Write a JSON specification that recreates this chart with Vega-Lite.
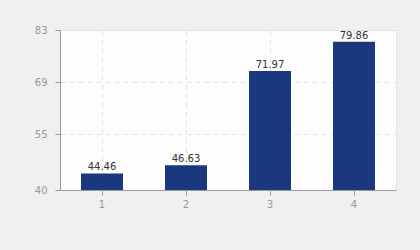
{
  "$schema": "https://vega.github.io/schema/vega-lite/v6.json",
  "width": 420,
  "height": 250,
  "autosize": {"type": "fit", "contains": "padding"},
  "padding": {"left": 34, "top": 25, "right": 24, "bottom": 41},
  "background": "#f0f0f0",
  "config": {
    "view": {"stroke": "#e4e4e4", "fill": "#fdfdfd"},
    "font": "DejaVu Sans",
    "axis": {
      "labelFont": "DejaVu Sans",
      "labelFontSize": 10,
      "labelColor": "#999999",
      "domainColor": "#999999",
      "tickColor": "#999999",
      "tickSize": 5,
      "gridColor": "#e3e3e3",
      "gridDash": [5, 4],
      "title": null
    }
  },
  "data": {
    "values": [
      {"x": "1", "v": 44.46},
      {"x": "2", "v": 46.63},
      {"x": "3", "v": 71.97},
      {"x": "4", "v": 79.86}
    ]
  },
  "layer": [
    {
      "mark": {"type": "bar", "color": "#1a387e"},
      "encoding": {
        "x": {
          "field": "x", "type": "ordinal",
          "scale": {"paddingInner": 0.5, "paddingOuter": 0.25},
          "axis": {"labelAngle": 0, "grid": true, "labelPadding": 4}
        },
        "y": {
          "field": "v", "type": "quantitative",
          "scale": {"domain": [40, 83], "zero": false, "nice": false},
          "axis": {"values": [40, 55, 69, 83], "labelPadding": 8}
        },
        "y2": {"datum": 40}
      }
    },
    {
      "mark": {"type": "text", "baseline": "bottom", "dy": -1, "fontSize": 10, "color": "#333333", "font": "DejaVu Sans"},
      "encoding": {
        "x": {"field": "x", "type": "ordinal"},
        "y": {"field": "v", "type": "quantitative"},
        "text": {"field": "v", "type": "quantitative", "format": ".2f"}
      }
    }
  ]
}
